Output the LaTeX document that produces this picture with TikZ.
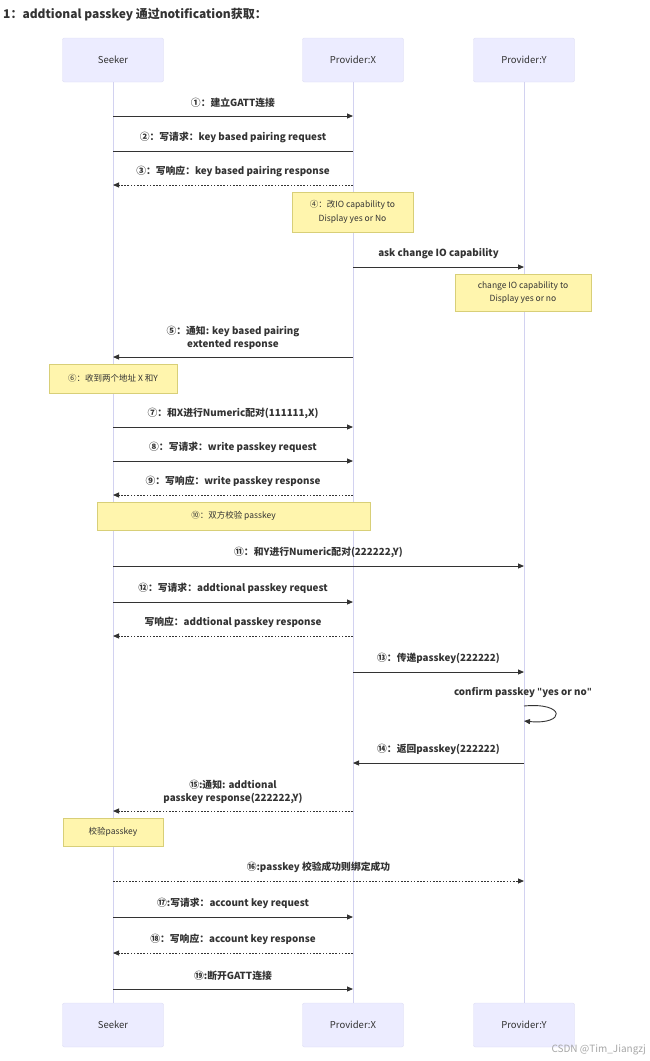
\documentclass[tikz,border=0pt]{standalone}
\usepackage{fontspec}
\setmainfont{Noto Sans CJK SC}
\newfontfamily\quotefont{DejaVu Sans}
\usepackage{xcolor}
\usetikzlibrary{positioning,arrows.meta}

\definecolor{txtgray}{HTML}{333333}
\definecolor{actorfill}{HTML}{ECECFF}
\definecolor{actorline}{HTML}{DCDCF4}
\definecolor{lifecol}{HTML}{D2D2F0}
\definecolor{notefill}{HTML}{FFF5AD}
\definecolor{noteline}{HTML}{D8CF78}

\newcommand{\dq}{{\quotefont\symbol{34}}}

\tikzset{
  actor/.style={draw=actorline, fill=actorfill, rounded corners=2pt, minimum width=101pt, minimum height=44pt, font=\fontsize{9.5}{11}\selectfont, text=txtgray},
  lifeline/.style={draw=lifecol, line width=0.9pt},
  msg/.style={draw=txtgray, line width=0.9pt, -{Triangle[length=6pt,width=5pt]}},
  plainmsg/.style={draw=txtgray, line width=0.9pt},
  reply/.style={msg, dash pattern=on 1.6pt off 1.6pt},
  lbl/.style={font=\bfseries\fontsize{9.8}{13}\selectfont, text=txtgray, align=center, inner sep=1pt},
  notebox/.style={draw=noteline, fill=notefill, font=\fontsize{8.5}{13.5}\selectfont, text=txtgray, align=center}
}

\begin{document}
\begin{tikzpicture}[x=1pt,y=-1pt]
\useasboundingbox (0,0) rectangle (650,1061);
% title
\node[anchor=west, font=\bfseries\fontsize{12}{14}\selectfont, text=txtgray, inner sep=0pt] (title) at (3,15) {1：addtional passkey 通过notification获取：};
% actors
\node[actor] (seekTop) at (113,60) {Seeker};
\node[actor] (pxTop) at (353,60) {Provider:X};
\node[actor] (pyTop) at (524,60) {Provider:Y};
\node[actor] (seekBot) at (113,1025) {Seeker};
\node[actor] (pxBot) at (353,1025) {Provider:X};
\node[actor] (pyBot) at (524,1025) {Provider:Y};
% lifelines
\draw[lifeline] (seekTop) -- (seekBot);
\draw[lifeline] (pxTop) -- (pxBot);
\draw[lifeline] (pyTop) -- (pyBot);
% connection, key based pairing
\draw[msg] (seekTop |- 0,116) -- (pxTop |- 0,116) node[lbl, midway, above=7pt] {①：建立GATT连接};
\draw[plainmsg] (seekTop |- 0,151) -- (pxTop |- 0,151) node[lbl, midway, above=7pt] {②：写请求：key based pairing request};
\draw[reply] (pxTop |- 0,185) -- (seekTop |- 0,185) node[lbl, midway, above=7pt] {③：写响应：key based pairing response};
\node[notebox, minimum width=121pt, minimum height=40pt] (noteIO) at (352.5,212) {④：改IO capability to\\Display yes or No};
\draw[msg] (pxTop |- 0,267) -- (pyTop |- 0,267) node[lbl, midway, above=7pt] {ask change IO capability};
\node[notebox, minimum width=136pt, minimum height=37pt] (noteY) at (523,292.5) {change IO capability to\\Display yes or no};
\draw[msg] (pxTop |- 0,357) -- (seekTop |- 0,357) node[lbl, midway, above=6pt] {⑤：通知: key based pairing\\extented response};
\node[notebox, minimum width=128pt, minimum height=29pt] (noteAddr) at (113,378.5) {⑥：收到两个地址 X 和Y};
% pairing with X
\draw[msg] (seekTop |- 0,427) -- (pxTop |- 0,427) node[lbl, midway, above=7pt] {⑦：和X进行Numeric配对(111111,X)};
\draw[msg] (seekTop |- 0,461) -- (pxTop |- 0,461) node[lbl, midway, above=7pt] {⑧：写请求：write passkey request};
\draw[reply] (pxTop |- 0,495) -- (seekTop |- 0,495) node[lbl, midway, above=7pt] {⑨：写响应：write passkey response};
\node[notebox, minimum width=273pt, minimum height=28pt] (noteBoth) at (233.5,516) {⑩：双方校验 passkey};
% pairing with Y
\draw[msg] (seekTop |- 0,566) -- (pyTop |- 0,566) node[lbl, midway, above=7pt] {⑪：和Y进行Numeric配对(222222,Y)};
\draw[msg] (seekTop |- 0,602) -- (pxTop |- 0,602) node[lbl, midway, above=7pt] {⑫：写请求：addtional passkey request};
\draw[reply] (pxTop |- 0,636) -- (seekTop |- 0,636) node[lbl, midway, above=7pt] {写响应：addtional passkey response};
\draw[msg] (pxTop |- 0,672) -- (pyTop |- 0,672) node[lbl, midway, above=7pt] {⑬：传递passkey(222222)};
\node[lbl] (confirm) at (523,692) {confirm passkey \dq yes or no\dq};
\draw[msg] (pyTop |- 0,706) .. controls (566,702) and (566,725) .. (pyTop |- 0,721);
\draw[msg] (pyTop |- 0,763) -- (pxTop |- 0,763) node[lbl, midway, above=7pt] {⑭：返回passkey(222222)};
\draw[reply] (pxTop |- 0,811) -- (seekTop |- 0,811) node[lbl, midway, above=6pt] {⑮:通知: addtional\\passkey response(222222,Y)};
\node[notebox, minimum width=100pt, minimum height=28pt] (noteCheck) at (113,832) {校验passkey};
\draw[reply] (seekTop |- 0,881) -- (pyTop |- 0,881) node[lbl, midway, above=7pt] {⑯:passkey 校验成功则绑定成功};
% account key, disconnect
\draw[msg] (seekTop |- 0,917) -- (pxTop |- 0,917) node[lbl, midway, above=7pt] {⑰:写请求：account key request};
\draw[reply] (pxTop |- 0,953) -- (seekTop |- 0,953) node[lbl, midway, above=7pt] {⑱：写响应：account key response};
\draw[msg] (seekTop |- 0,989) -- (pxTop |- 0,989) node[lbl, midway, above=7pt] {⑲:断开GATT连接};
% watermark
\node[anchor=east, font=\fontsize{10}{11}\selectfont, text=black!35, inner sep=0pt] (mark) at (646,1050) {CSDN @Tim\_Jiangzj};
\end{tikzpicture}
\end{document}
